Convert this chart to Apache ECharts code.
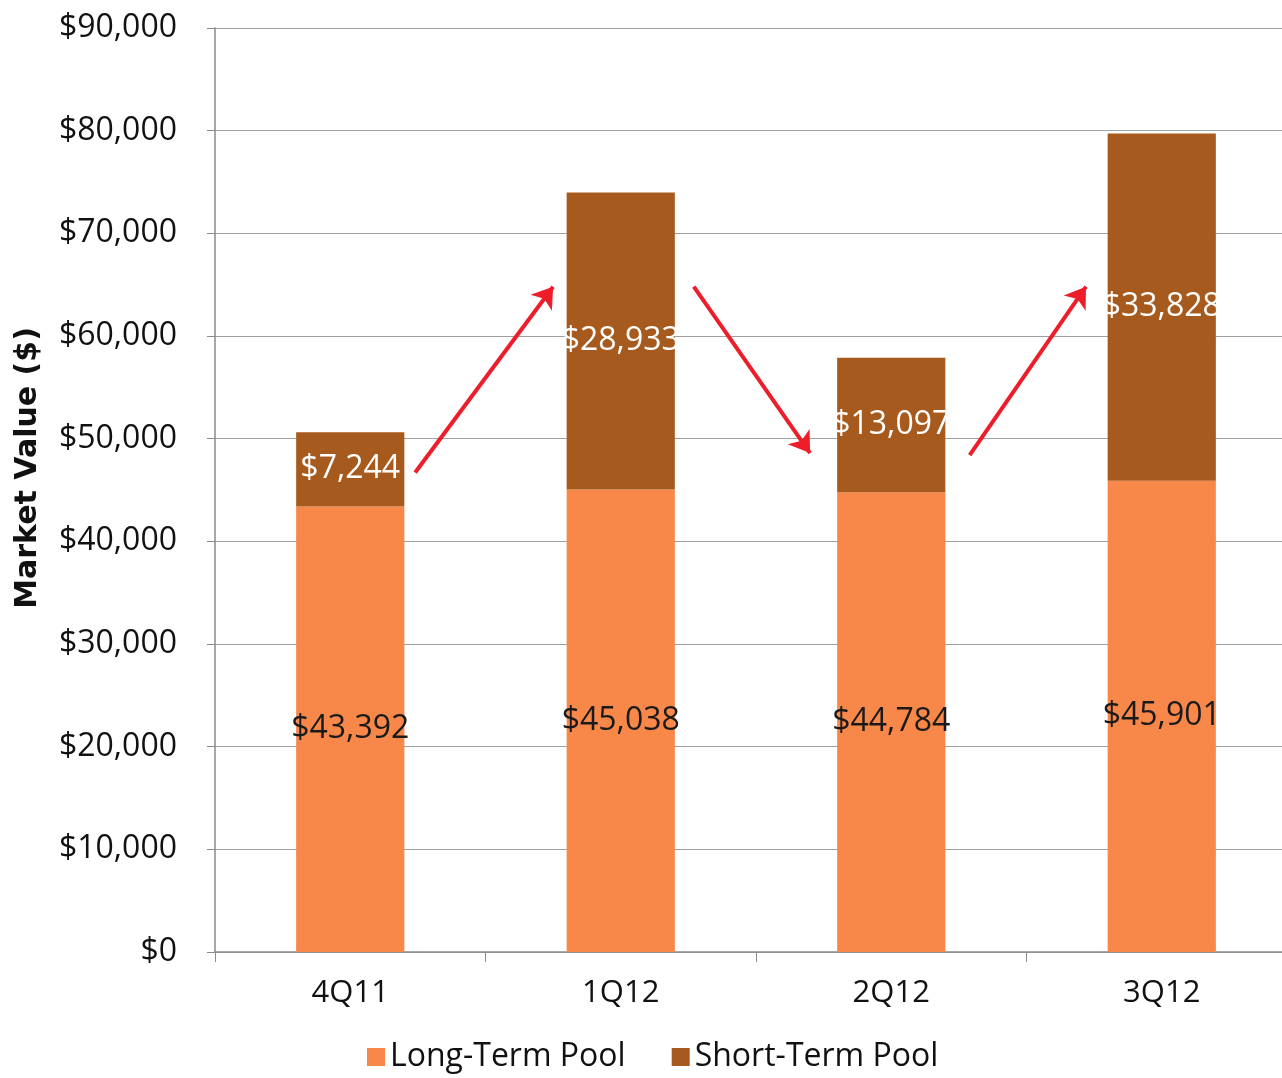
<!DOCTYPE html>
<html>
<head>
<meta charset="utf-8">
<script src="https://cdn.jsdelivr.net/npm/echarts@6/dist/echarts.min.js"></script>
<style>
  html, body { margin: 0; padding: 0; background: #fff; }
  #chart { width: 1282px; height: 1078px; }
</style>
</head>
<body>
<div id="chart"></div>
<script>
const quarters = ['4Q11', '1Q12', '2Q12', '3Q12'];
const longTermPool = [43392, 45038, 44784, 45901];
const shortTermPool = [7244, 28933, 13097, 33828];
const yTicks = [0, 10000, 20000, 30000, 40000, 50000, 60000, 70000, 80000, 90000];
// red trend arrows, [from, to] in (category position, value)
const trendArrows = [
    [[0.24, 46700], [0.75, 64800]],
    [[1.27, 64800], [1.70, 48600]],
    [[2.29, 48400], [2.72, 64800]]
];

const fontFamily = '"Open Sans", "DejaVu Sans", sans-serif';
const longColor = '#F7884A';
const shortColor = '#A75A1E';

function money(v) {
    return '$' + Number(v).toLocaleString('en-US');
}

let chart = echarts.init(document.getElementById('chart'));
chart.setOption({
    animation: false,
    textStyle: { fontFamily: fontFamily },
    grid: {
        left: 215,
        right: -15,
        top: 28,
        bottom: 126,
        outerBoundsMode: 'none'
    },
    legend: {
        data: ['Long-Term Pool', 'Short-Term Pool'],
        left: 362,
        bottom: 0,
        icon: 'rect',
        itemWidth: 18,
        itemHeight: 18,
        itemGap: 46,
        textStyle: { fontSize: 32, color: '#111', fontFamily: fontFamily }
    },
    xAxis: [
        {
            type: 'category',
            data: quarters,
            axisLine: { lineStyle: { color: '#8a8a8a', width: 1.5 } },
            axisTick: { show: true, length: 10, lineStyle: { color: '#8a8a8a' } },
            axisLabel: { fontSize: 31, color: '#111', margin: 26 }
        },
        {
            type: 'value',
            min: -0.5,
            max: 3.5,
            show: false
        }
    ],
    yAxis: {
        type: 'value',
        min: yTicks[0],
        max: yTicks[yTicks.length - 1],
        interval: yTicks[1] - yTicks[0],
        name: 'Market Value ($)',
        nameLocation: 'middle',
        nameGap: 172,
        nameTextStyle: {
            fontSize: 30,
            fontWeight: 'bold',
            color: '#111',
            fontFamily: '"DejaVu Sans", sans-serif',
            padding: [0, 0, 0, 44]
        },
        axisLine: { show: true, onZero: false, lineStyle: { color: '#8a8a8a', width: 1.5 } },
        axisTick: { show: true, length: 8, lineStyle: { color: '#8a8a8a' } },
        axisLabel: { fontSize: 32, color: '#111', margin: 38, formatter: money },
        splitLine: { lineStyle: { color: '#a0a0a0', width: 1.2 } }
    },
    series: [
        {
            name: 'Long-Term Pool',
            type: 'bar',
            stack: 'pool',
            barWidth: '40%',
            itemStyle: { color: longColor },
            label: {
                show: true,
                position: 'inside',
                fontSize: 32,
                color: '#1a1a1a',
                formatter: p => money(p.value)
            },
            data: longTermPool
        },
        {
            name: 'Short-Term Pool',
            type: 'bar',
            stack: 'pool',
            barWidth: '40%',
            itemStyle: { color: shortColor },
            label: {
                show: true,
                position: 'inside',
                fontSize: 32,
                color: '#fff',
                formatter: p => money(p.value)
            },
            data: shortTermPool
        },
        {
            name: 'trend',
            type: 'lines',
            coordinateSystem: 'cartesian2d',
            xAxisIndex: 1,
            yAxisIndex: 0,
            symbol: ['none', 'arrow'],
            symbolSize: 20,
            lineStyle: { color: '#EE1D2A', width: 4, opacity: 1 },
            data: trendArrows.map(a => ({ coords: a }))
        }
    ]
});
</script>
</body>
</html>
